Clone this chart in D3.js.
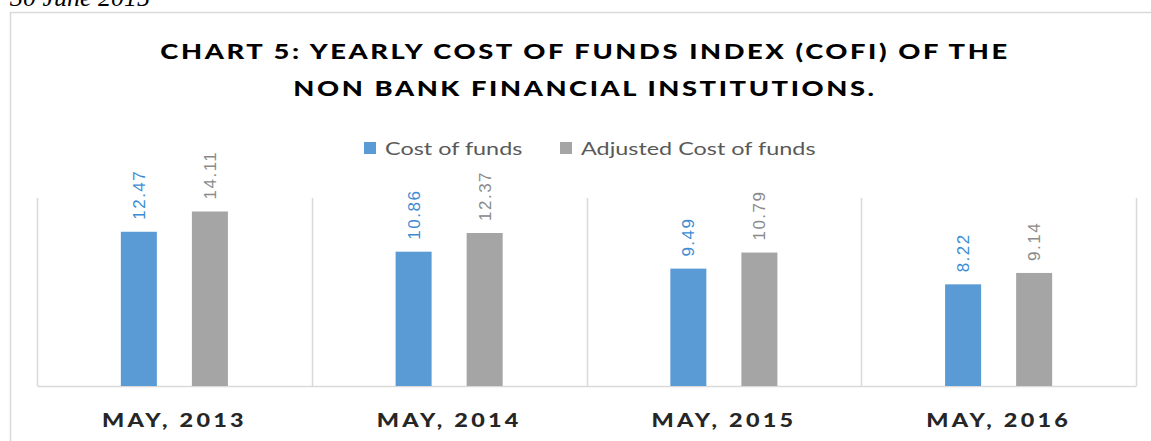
<!DOCTYPE html>
<html>
<head>
<meta charset="utf-8">
<script src="https://cdn.jsdelivr.net/npm/d3@7"></script>
<style>
  html, body { margin: 0; padding: 0; background: #fff; overflow: hidden; }
  svg { display: block; }
</style>
</head>
<body>
<div id="chart"></div>
<script>
// Data
const categories = ["MAY, 2013", "MAY, 2014", "MAY, 2015", "MAY, 2016"];
const seriesNames = ["Cost of funds", "Adjusted Cost of funds"];
const costOfFunds = [12.47, 10.86, 9.49, 8.22];
const adjustedCost = [14.11, 12.37, 10.79, 9.14];
const titleLines = ["CHART 5: YEARLY COST OF FUNDS INDEX (COFI) OF THE", "NON BANK FINANCIAL INSTITUTIONS."];

const colors = ["#5b9bd5", "#a5a5a5"];
const labelColors = ["#3d8bd4", "#8a8a8a"];

const W = 1151, H = 441;
const plot = { left: 37, right: 1136, top: 198, bottom: 386 };
const stretch = 1.3; // the reference text is drawn wide

const svg = d3.select("#chart")
  .append("svg")
  .attr("width", W)
  .attr("height", H);

// Cut-off heading above the chart box
svg.append("text")
  .attr("x", 10)
  .attr("y", 6)
  .style("font-family", "'Liberation Serif', serif")
  .style("font-style", "italic")
  .style("font-size", "26px")
  .attr("fill", "#000")
  .text("30 June 2015");

// Chart frame (runs off the right and bottom edges)
svg.append("path")
  .attr("d", `M10.5,${H + 2} V12.5 H${W + 2}`)
  .attr("fill", "none")
  .attr("stroke", "#d9d9d9")
  .attr("stroke-width", 1.5);

// Scales
const x0 = d3.scaleBand()
  .domain(categories)
  .range([plot.left, plot.right])
  .padding(0);

const x1 = d3.scaleBand()
  .domain(seriesNames)
  .range([0, x0.bandwidth()])
  .paddingInner(0.493)
  .paddingOuter(1.18);

const y = d3.scaleLinear()
  .domain([0, 15.2])
  .range([plot.bottom, plot.top]);

// Vertical category gridlines
const bounds = categories.map(c => x0(c)).concat([plot.right]);
svg.selectAll(".vgrid")
  .data(bounds)
  .join("line")
  .attr("class", "vgrid")
  .attr("x1", d => Math.round(d) + 0.5)
  .attr("x2", d => Math.round(d) + 0.5)
  .attr("y1", plot.top)
  .attr("y2", plot.bottom)
  .attr("stroke", "#d9d9d9")
  .attr("stroke-width", 1.5);

// Category axis
const xAxis = svg.append("g")
  .attr("transform", `translate(0,${plot.bottom})`)
  .call(d3.axisBottom(x0).tickSize(0).tickPadding(28));

xAxis.select(".domain")
  .attr("stroke", "#d9d9d9")
  .attr("stroke-width", 1.5);

xAxis.selectAll(".tick text")
  .attr("transform", `scale(${stretch},1)`)
  .style("font-family", "Lato, 'Open Sans', sans-serif")
  .style("font-weight", "900")
  .style("font-size", "18px")
  .style("letter-spacing", "2.5px")
  .attr("fill", "#262626");

// Bars
const rows = categories.map((c, i) => ({
  cat: c,
  values: [
    { name: seriesNames[0], value: costOfFunds[i], k: 0 },
    { name: seriesNames[1], value: adjustedCost[i], k: 1 }
  ]
}));

const groups = svg.selectAll(".cat")
  .data(rows)
  .join("g")
  .attr("class", "cat")
  .attr("transform", d => `translate(${x0(d.cat)},0)`);

groups.selectAll("rect")
  .data(d => d.values)
  .join("rect")
  .attr("x", d => x1(d.name))
  .attr("y", d => y(d.value))
  .attr("width", x1.bandwidth())
  .attr("height", d => y(0) - y(d.value))
  .attr("fill", d => colors[d.k]);

// Rotated value labels
groups.selectAll(".lbl")
  .data(d => d.values)
  .join("text")
  .attr("class", "lbl")
  .attr("transform", d => `translate(${x1(d.name) + x1.bandwidth() / 2 + 6},${y(d.value) - 12}) rotate(-90)`)
  .style("font-family", "'Liberation Sans', Arial, sans-serif")
  .style("font-size", "17px")
  .style("letter-spacing", "1.5px")
  .attr("fill", d => labelColors[d.k])
  .text(d => d.value.toFixed(2));

// Title
svg.append("g")
  .selectAll("text")
  .data(titleLines)
  .join("text")
  .attr("transform", (d, i) => `translate(585,${59 + i * 37}) scale(${stretch},1)`)
  .attr("text-anchor", "middle")
  .style("font-family", "Lato, 'Open Sans', sans-serif")
  .style("font-weight", "900")
  .style("font-size", "21px")
  .style("letter-spacing", "2px")
  .attr("fill", "#000")
  .text(d => d);

// Legend
const legendX = [364, 560];
const legend = svg.append("g");
seriesNames.forEach((name, i) => {
  legend.append("rect")
    .attr("x", legendX[i])
    .attr("y", 142)
    .attr("width", 12)
    .attr("height", 12)
    .attr("fill", colors[i]);
  legend.append("text")
    .attr("transform", `translate(${legendX[i] + 21},155) scale(${stretch},1)`)
    .style("font-family", "Lato, 'Open Sans', sans-serif")
    .style("font-size", "18px")
    .attr("fill", "#595959")
    .text(name);
});
</script>
</body>
</html>
